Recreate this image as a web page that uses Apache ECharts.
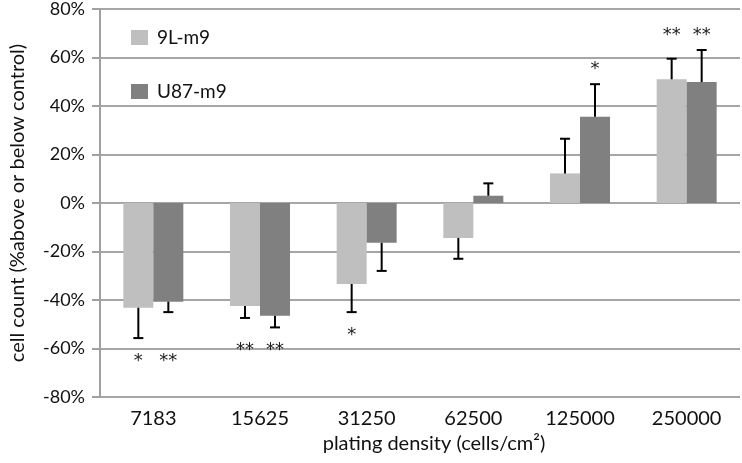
<!DOCTYPE html>
<html><head><meta charset="utf-8">
<script src="https://cdn.jsdelivr.net/npm/echarts@6/dist/echarts.min.js"></script>
<style>html,body{margin:0;padding:0;background:#fff}#c{width:742px;height:463px}</style>
</head><body><div id="c"></div>
<script>
const categories = ['7183', '15625', '31250', '62500', '125000', '250000'];
const seriesNames = ['9L-m9', 'U87-m9'];
const values9L = [-43.2, -42.5, -33.4, -14.4, 12.2, 51.0];
const valuesU87 = [-40.7, -46.5, -16.4, 3.0, 35.6, 49.9];
const errEnd9L = [-55.7, -47.4, -45.0, -23.0, 26.5, 59.5];
const errEndU87 = [-45.0, -51.3, -28.0, 8.1, 49.0, 63.1];
const stars9L = ['*', '**', '*', '', '', '**'];
const starsU87 = ['**', '**', '', '', '*', '**'];
const yTicks = {min: -80, max: 80, interval: 20};

const FONT = 'Lato';
const colors = ['#bfbfbf', '#808080'];
const BAR_W = 30;

function errData(vals, ends) { return vals.map((v, i) => [i, v, ends[i]]); }

function errRender(offset) {
  return function (params, api) {
    const i = api.value(0);
    const base = api.coord([i, api.value(1)]);
    const end = api.coord([i, api.value(2)]);
    const x = base[0] + offset;
    return {
      type: 'group',
      children: [
        {type: 'line', shape: {x1: x, y1: base[1], x2: x, y2: end[1]}, style: {stroke: '#000', lineWidth: 2}},
        {type: 'line', shape: {x1: x - 5, y1: end[1], x2: x + 5, y2: end[1]}, style: {stroke: '#000', lineWidth: 2}}
      ]
    };
  };
}

// stars placed beyond the category's outermost error bar end
const starData = categories.map((c, i) => {
  const pos = values9L[i] >= 0 || valuesU87[i] >= 0;
  const ext = pos ? Math.max(errEnd9L[i], errEndU87[i]) : Math.min(errEnd9L[i], errEndU87[i]);
  return [i, ext, pos ? 1 : -1, stars9L[i], starsU87[i]];
});

const chart = echarts.init(document.getElementById('c'), null, {renderer: 'canvas'});
chart.setOption({
  animation: false,
  textStyle: {fontFamily: FONT},
  grid: {left: 95, right: 2, top: 8, bottom: 66, containLabel: false},
  legend: {
    orient: 'vertical', left: 126, top: 23, itemWidth: 17, itemHeight: 15, itemGap: 35,
    icon: 'rect', data: seriesNames,
    textStyle: {fontFamily: FONT, fontSize: 19, color: '#111', padding: [0, 0, 0, 4]}
  },
  xAxis: {
    type: 'category', data: categories,
    axisLine: {show: false, onZero: false},
    axisTick: {show: false},
    axisLabel: {fontFamily: FONT, fontSize: 20, color: '#111', margin: 12},
    name: 'plating density (cells/cm²)', nameLocation: 'middle', nameGap: 37,
    nameTextStyle: {fontFamily: FONT, fontSize: 20, color: '#111', padding: [0, 0, 0, 28]}
  },
  yAxis: {
    type: 'value', min: yTicks.min, max: yTicks.max, interval: yTicks.interval,
    axisLine: {show: true, lineStyle: {color: '#a0a0a0', width: 2}},
    axisTick: {show: true, length: 8, lineStyle: {color: '#a0a0a0', width: 2}},
    splitLine: {show: true, lineStyle: {color: '#a6a6a6', width: 2}},
    axisLabel: {fontFamily: FONT, fontSize: 18, color: '#111', margin: 15, formatter: '{value}%'},
    name: 'cell count (%above or below control)', nameLocation: 'middle', nameGap: 72,
    nameTextStyle: {fontFamily: FONT, fontSize: 20, color: '#111'}
  },
  series: [
    {name: seriesNames[0], type: 'bar', data: values9L, barWidth: BAR_W, barGap: '0%', itemStyle: {color: colors[0]}, z: 2},
    {name: seriesNames[1], type: 'bar', data: valuesU87, barWidth: BAR_W, barGap: '0%', itemStyle: {color: colors[1]}, z: 2},
    {type: 'custom', data: errData(values9L, errEnd9L), renderItem: errRender(-BAR_W / 2), encode: {x: 0, y: [1, 2]}, z: 3, silent: true},
    {type: 'custom', data: errData(valuesU87, errEndU87), renderItem: errRender(BAR_W / 2), encode: {x: 0, y: [1, 2]}, z: 3, silent: true},
    {type: 'custom', data: starData, z: 4, silent: true, encode: {x: 0, y: 1},
      renderItem: function (params, api) {
        const i = api.value(0);
        const p = api.coord([i, api.value(1)]);
        const dir = api.value(2);
        const y = p[1] - dir * 19 + 4;
        const s1 = starData[params.dataIndex][3], s2 = starData[params.dataIndex][4];
        const st = t => ({fill: '#222', text: t, font: '18px "DejaVu Sans"', textAlign: 'center', textVerticalAlign: 'middle'});
        return {type: 'group', children: [
          {type: 'text', x: p[0] - BAR_W / 2, y: y, style: st(s1)},
          {type: 'text', x: p[0] + BAR_W / 2, y: y, style: st(s2)}
        ]};
      }
    }
  ]
});
</script></body></html>
